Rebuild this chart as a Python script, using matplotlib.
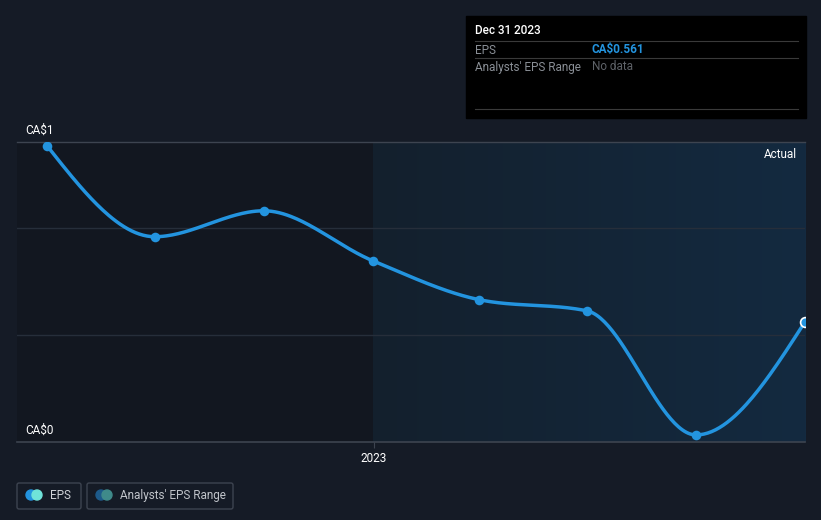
import numpy as np
import matplotlib
matplotlib.use("Agg")
import matplotlib.pyplot as plt
import matplotlib.dates as mdates
from matplotlib.patches import FancyBboxPatch, Rectangle, Circle
from matplotlib.colors import LinearSegmentedColormap
import datetime as dt

plt.rcParams['font.family'] = ['Roboto', 'DejaVu Sans']

# data
dates = ["2022-03-31", "2022-06-30", "2022-09-30", "2022-12-31",
         "2023-03-31", "2023-06-30", "2023-09-30", "2023-12-31"]
eps = [1.383, 0.958, 1.079, 0.846, 0.664, 0.612, 0.033, 0.561]
y_labels = ["CA\\$0", "CA\\$1"]
x_tick_label = "2023"

BG = "#151b26"
BLUE = "#2394df"


def monotone(x, y, n=400):
    # monotone cubic (Fritsch-Carlson), same idea as d3 curveMonotoneX
    x = np.asarray(x, float)
    y = np.asarray(y, float)
    h = np.diff(x)
    d = np.diff(y) / h
    m = np.zeros_like(y)
    for i in range(1, len(y) - 1):
        if d[i - 1] * d[i] > 0:
            p = (d[i - 1] * h[i] + d[i] * h[i - 1]) / (h[i - 1] + h[i])
            m[i] = np.sign(d[i]) * min(2 * min(abs(d[i - 1]), abs(d[i])), abs(p))
    m[0] = (3 * d[0] - m[1]) / 2
    m[-1] = (3 * d[-1] - m[-2]) / 2
    xs, ys = [], []
    for i in range(len(h)):
        t = np.linspace(0, 1, n // len(h))
        h00 = 2 * t**3 - 3 * t**2 + 1
        h10 = t**3 - 2 * t**2 + t
        h01 = -2 * t**3 + 3 * t**2
        h11 = t**3 - t**2
        xs.append(x[i] + t * h[i])
        ys.append(h00 * y[i] + h10 * h[i] * m[i] + h01 * y[i + 1] + h11 * h[i] * m[i + 1])
    return np.concatenate(xs), np.concatenate(ys)


xd = mdates.date2num([dt.datetime.strptime(d, "%Y-%m-%d") for d in dates])
xs, ys = monotone(xd, eps)

fig = plt.figure(figsize=(8.21, 5.2), dpi=100)
fig.patch.set_facecolor(BG)
ax = fig.add_axes([17 / 821, 78 / 520, 788 / 821, 300 / 520])
ax.set_facecolor(BG)

x_left = xd[0] - (47 - 17) / 108 * (xd[1] - xd[0])
x_right = xd[-1]

# past region (darker) and blue gradient region
split = mdates.date2num(dt.datetime(2022, 12, 31))
ax.axvspan(x_left, split, color="#121720", zorder=0)
grad = np.linspace(0, 1, 256).reshape(1, -1)
cmap = LinearSegmentedColormap.from_list("g", ["#13202d", "#142a40"])
ax.imshow(grad, extent=[split, x_right, 0, 1.40], aspect="auto", cmap=cmap, zorder=0)
ax.set_xlim(x_left, x_right)
ax.set_ylim(0, 1.40)

for v in [0.5, 1.0]:
    ax.axhline(v, color="#262e3a", lw=1, zorder=1)
ax.axhline(1.40, color="#3d4450", lw=1, zorder=1, clip_on=False)
ax.axhline(0, color="#3d4450", lw=1.2, zorder=1, clip_on=False)

ax.plot(xs, ys, color=BLUE, lw=2.5, zorder=3, solid_capstyle="round")
ax.scatter(xd[:-1], eps[:-1], s=48, color=BLUE, zorder=4, linewidths=0)
ax.scatter(xd[-1:], eps[-1:], s=50, color=BLUE, edgecolors="white", linewidths=1.2,
           zorder=5, clip_on=True)

for s in ax.spines.values():
    s.set_visible(False)
ax.set_xticks([mdates.date2num(dt.datetime(2023, 1, 1))])
ax.set_xticklabels([x_tick_label], color="white", fontsize=8.5)
ax.tick_params(axis="x", length=4, color="#3d4450", pad=3)
ax.set_yticks([])

# overlay axes in pixel coordinates
ov = fig.add_axes([0, 0, 1, 1], facecolor="none")
ov.set_xlim(0, 821)
ov.set_ylim(520, 0)
ov.axis("off")

ov.text(25, 130, y_labels[1], color="white", fontsize=8.5, va="center", ha="left")
ov.text(25, 430, y_labels[0], color="white", fontsize=8.5, va="center", ha="left")
ov.text(797, 154, "Actual", color="white", fontsize=8.5, ha="right", va="center")

# tooltip box
ov.add_patch(Rectangle((466, 16), 340, 102, color="black", zorder=5))
for yy in [41, 58, 109]:
    ov.plot([475, 798], [yy, yy], color="#3a3a3a", lw=0.8, zorder=6)
ov.text(475, 31, "Dec 31 2023", color="white", fontsize=8.5, va="center",
        fontweight="medium", zorder=7)
ov.text(475, 50, "EPS", color="#8a8f96", fontsize=8.5, va="center", zorder=7)
ov.text(592, 50, "CA\\$0.561", color=BLUE, fontsize=8.5, va="center",
        fontweight="bold", zorder=7)
ov.text(475, 67, "Analysts' EPS Range", color="#8a8f96", fontsize=8.5, va="center", zorder=7)
ov.text(592, 67, "No data", color="#5e6268", fontsize=8.5, va="center", zorder=7)


# legend
def legend_item(x0, w, label, c1, c2, tc):
    ov.add_patch(FancyBboxPatch((x0, 483), w, 26, boxstyle="round,pad=0,rounding_size=2",
                                fc="none", ec="#3d4450", lw=1))
    ov.add_patch(Circle((x0 + 14, 495), 5, color=c1))
    ov.add_patch(Circle((x0 + 20, 495), 5, color=c2))
    ov.text(x0 + 33, 495.5, label, color=tc, fontsize=8.5, va="center")


legend_item(17, 64, "EPS", BLUE, "#6fe3d9", "#d0d3d8")
legend_item(87, 146, "Analysts' EPS Range", "#1d5a8a", "#3f8a8a", "#c0c4ca")

fig.savefig("out.png", dpi=100, facecolor=BG)
